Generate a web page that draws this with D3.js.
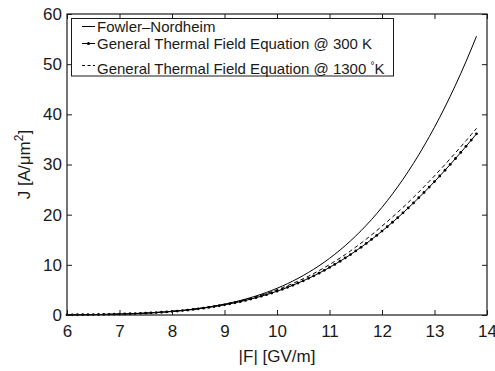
<!DOCTYPE html>
<html>
<head>
<meta charset="utf-8">
<script src="https://cdn.jsdelivr.net/npm/d3@7"></script>
<style>
    body { margin: 0; background: #ffffff; }
    svg { display: block; }
</style>
</head>
<body>
<div id="chart"></div>
<script>
// field strength |F| in GV/m, sampled every 0.1
const field = [
    6.0, 6.1, 6.2, 6.3, 6.4, 6.5, 6.6, 6.7, 6.8, 6.9,
    7.0, 7.1, 7.2, 7.3, 7.4, 7.5, 7.6, 7.7, 7.8, 7.9,
    8.0, 8.1, 8.2, 8.3, 8.4, 8.5, 8.6, 8.7, 8.8, 8.9,
    9.0, 9.1, 9.2, 9.3, 9.4, 9.5, 9.6, 9.7, 9.8, 9.9,
    10.0, 10.1, 10.2, 10.3, 10.4, 10.5, 10.6, 10.7, 10.8, 10.9,
    11.0, 11.1, 11.2, 11.3, 11.4, 11.5, 11.6, 11.7, 11.8, 11.9,
    12.0, 12.1, 12.2, 12.3, 12.4, 12.5, 12.6, 12.7, 12.8, 12.9,
    13.0, 13.1, 13.2, 13.3, 13.4, 13.5, 13.6, 13.7, 13.8
];

// J in A/um^2
const fowler_nordheim = [
    0.031, 0.038, 0.046, 0.056, 0.067, 0.081, 0.096, 0.114, 0.134, 0.158,
    0.184, 0.215, 0.249, 0.288, 0.332, 0.382, 0.437, 0.498, 0.566, 0.642,
    0.727, 0.819, 0.922, 1.034, 1.157, 1.292, 1.439, 1.600, 1.774, 1.964,
    2.169, 2.391, 2.631, 2.890, 3.169, 3.469, 3.791, 4.136, 4.505, 4.900,
    5.321, 5.771, 6.250, 6.759, 7.300, 7.874, 8.482, 9.127, 9.810, 10.53,
    11.29, 12.10, 12.94, 13.83, 14.77, 15.76, 16.79, 17.88, 19.02, 20.21,
    21.46, 22.77, 24.14, 25.57, 27.06, 28.62, 30.24, 31.93, 33.70, 35.53,
    37.43, 39.41, 41.47, 43.61, 45.83, 48.13, 50.52, 53.00, 55.57
];

const thermal_300 = [
    0.031, 0.038, 0.046, 0.056, 0.067, 0.080, 0.096, 0.113, 0.133, 0.156,
    0.183, 0.212, 0.246, 0.284, 0.326, 0.374, 0.427, 0.486, 0.551, 0.623,
    0.703, 0.790, 0.886, 0.991, 1.106, 1.230, 1.365, 1.512, 1.671, 1.842,
    2.027, 2.225, 2.437, 2.665, 2.909, 3.170, 3.448, 3.743, 4.057, 4.390,
    4.742, 5.116, 5.509, 5.925, 6.362, 6.821, 7.304, 7.811, 8.341, 8.896,
    9.476, 10.09, 10.71, 11.37, 12.05, 12.77, 13.50, 14.26, 15.06, 15.87,
    16.72, 17.59, 18.49, 19.41, 20.36, 21.34, 22.34, 23.37, 24.42, 25.50,
    26.59, 27.71, 28.85, 30.02, 31.20, 32.40, 33.62, 34.86, 36.12
];

const thermal_1300 = [
    0.032, 0.039, 0.047, 0.058, 0.069, 0.082, 0.099, 0.116, 0.137, 0.161,
    0.188, 0.218, 0.253, 0.293, 0.336, 0.385, 0.440, 0.501, 0.568, 0.642,
    0.731, 0.822, 0.923, 1.032, 1.152, 1.282, 1.424, 1.578, 1.745, 1.925,
    2.128, 2.338, 2.564, 2.806, 3.066, 3.344, 3.641, 3.956, 4.292, 4.649,
    5.027, 5.423, 5.840, 6.281, 6.744, 7.230, 7.742, 8.280, 8.841, 9.430,
    10.04, 10.70, 11.35, 12.05, 12.77, 13.54, 14.31, 15.12, 15.96, 16.82,
    17.72, 18.62, 19.54, 20.48, 21.45, 22.44, 23.46, 24.50, 25.56, 26.65,
    27.74, 28.87, 30.00, 31.17, 32.35, 33.53, 34.74, 35.96, 37.20
];

const x_ticks = [6, 7, 8, 9, 10, 11, 12, 13, 14];
const y_ticks = [0, 10, 20, 30, 40, 50, 60];

(function() {
    const width = 495, height = 371;
    const left = 67, right = 487, top = 14, bottom = 315;
    const font = '"Liberation Sans", Arial, Helvetica, sans-serif';
    const ink = '#1a1a1a';

    let svg = d3.select('#chart').append('svg')
        .attr('width', width)
        .attr('height', height)
        .attr('font-family', font);

    let x = d3.scaleLinear().domain([6, 14]).range([left, right]),
        y = d3.scaleLinear().domain([0, 60]).range([bottom, top]);

    let series = (values) => field.map((f, i) => ({ x: f, y: values[i] }));

    let line = d3.line()
        .x((d) => x(d.x))
        .y((d) => y(d.y));

    // curves
    let curves = svg.append('g')
        .attr('fill', 'none')
        .attr('stroke', '#000000')
        .attr('stroke-width', 1);

    curves.append('path').datum(series(fowler_nordheim))
        .attr('d', line);

    curves.append('path').datum(series(thermal_1300))
        .attr('stroke-dasharray', '4,3')
        .attr('d', line);

    curves.append('path').datum(series(thermal_300))
        .attr('d', line);

    svg.append('g').selectAll('circle')
        .data(series(thermal_300))
        .enter().append('circle')
        .attr('cx', (d) => x(d.x))
        .attr('cy', (d) => y(d.y))
        .attr('r', 1.4)
        .attr('fill', '#000000');

    // axes, ticks pointing inward on all four sides
    let style_axis = function(g) {
        g.select('.domain').remove();
        g.selectAll('line').attr('stroke', ink);
        g.selectAll('text')
            .attr('fill', ink)
            .attr('font-size', 17)
            .attr('font-family', font);
    };

    svg.append('g')
        .attr('transform', 'translate(0,' + bottom + ')')
        .call(d3.axisBottom(x).tickValues(x_ticks).tickSize(-5).tickPadding(10))
        .call(style_axis);

    svg.append('g')
        .attr('transform', 'translate(0,' + top + ')')
        .call(d3.axisTop(x).tickValues(x_ticks).tickSize(-5).tickFormat(''))
        .call(style_axis);

    svg.append('g')
        .attr('transform', 'translate(' + left + ',0)')
        .call(d3.axisLeft(y).tickValues(y_ticks).tickSize(-5).tickPadding(5))
        .call(style_axis);

    svg.append('g')
        .attr('transform', 'translate(' + right + ',0)')
        .call(d3.axisRight(y).tickValues(y_ticks).tickSize(-5).tickFormat(''))
        .call(style_axis);

    svg.append('rect')
        .attr('x', left)
        .attr('y', top)
        .attr('width', right - left)
        .attr('height', bottom - top)
        .attr('fill', 'none')
        .attr('stroke', ink)
        .attr('stroke-width', 1.2);

    // axis labels
    svg.append('text')
        .attr('x', (left + right) / 2)
        .attr('y', 362)
        .attr('text-anchor', 'middle')
        .attr('font-size', 17)
        .attr('fill', ink)
        .text('|F| [GV/m]');

    let ylabel = svg.append('text')
        .attr('transform', 'translate(30,' + ((top + bottom) / 2) + ') rotate(-90)')
        .attr('text-anchor', 'middle')
        .attr('font-size', 17)
        .attr('fill', ink);
    ylabel.append('tspan').text('J [A/\u03bcm');
    ylabel.append('tspan').attr('font-size', 12).attr('dy', '-0.6em').text('2');
    ylabel.append('tspan').attr('dy', '0.42em').text(']');

    // legend
    let legend = svg.append('g')
        .attr('font-size', 15)
        .attr('fill', ink);

    legend.append('rect')
        .attr('x', 71.5)
        .attr('y', 18.5)
        .attr('width', 322)
        .attr('height', 57.5)
        .attr('fill', '#ffffff')
        .attr('stroke', ink)
        .attr('stroke-width', 1);

    let rows = [26.5, 43.5, 68.5];
    let sample_x0 = 82, sample_x1 = 95, text_x = 97;

    legend.append('line')
        .attr('x1', sample_x0).attr('x2', sample_x1)
        .attr('y1', rows[0]).attr('y2', rows[0])
        .attr('stroke', '#000000');
    legend.append('text')
        .attr('x', text_x).attr('y', rows[0]).attr('dy', '0.35em')
        .text('Fowler\u2013Nordheim');

    legend.append('line')
        .attr('x1', sample_x0).attr('x2', sample_x1)
        .attr('y1', rows[1]).attr('y2', rows[1])
        .attr('stroke', '#000000');
    legend.append('circle')
        .attr('cx', (sample_x0 + sample_x1) / 2).attr('cy', rows[1])
        .attr('r', 1.5)
        .attr('fill', '#000000');
    legend.append('text')
        .attr('x', text_x).attr('y', rows[1]).attr('dy', '0.35em')
        .text('General Thermal Field Equation @ 300 K');

    legend.append('line')
        .attr('x1', sample_x0).attr('x2', sample_x1)
        .attr('y1', rows[2] - 3).attr('y2', rows[2] - 3)
        .attr('stroke', '#000000')
        .attr('stroke-dasharray', '3,2.5');
    let last = legend.append('text')
        .attr('x', text_x).attr('y', rows[2]).attr('dy', '0.35em');
    last.append('tspan').text('General Thermal Field Equation @ 1300 ');
    last.append('tspan').attr('font-size', 10).attr('dy', '-0.5em').text('\u00b0');
    last.append('tspan').attr('dy', '0.33em').text('K');
}());
</script>
</body>
</html>
